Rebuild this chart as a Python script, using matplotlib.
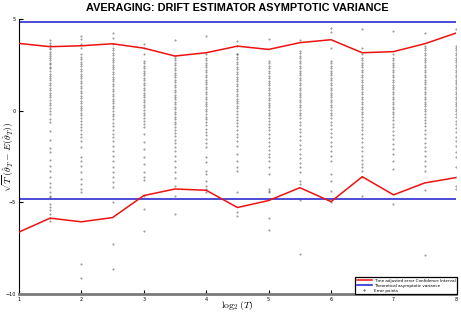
import matplotlib
matplotlib.use("Agg")
import matplotlib.pyplot as plt
from matplotlib.lines import Line2D

# ---------------- data ----------------
log2_T = [1.0, 1.5, 2.0, 2.5, 3.0, 3.5, 4.0, 4.5, 5.0, 5.5, 6.0, 6.5, 7.0, 7.5, 8.0]
ci_upper = [3.67, 3.49, 3.54, 3.65, 3.41, 2.98, 3.16, 3.52, 3.34, 3.71, 3.87, 3.16, 3.22, 3.65, 4.23]
ci_lower = [-6.62, -5.86, -6.06, -5.83, -4.63, -4.27, -4.34, -5.28, -4.90, -4.20, -4.96, -3.60, -4.59, -3.94, -3.65]
theoretical_level = 4.82

err_x = [1.5, 2.0, 2.5, 3.0, 3.5, 4.0, 4.5, 5.0, 5.5, 6.0, 6.5, 7.0, 7.5, 8.0]
err_15 = [3.83, 3.70, 3.58, 3.43, 3.34, 3.22, 3.11, 2.98, 2.89, 2.75, 2.62, 2.53, 2.38, 2.31, 2.17,
          2.02, 1.89, 1.77, 1.66, 1.53, 1.40, 1.26, 1.12, 0.99, 0.86, 0.72, 0.57, 0.44, 0.32, 0.17,
          -0.01, -0.19, -0.46, -0.64, -1.10, -1.60, -2.04, -2.27, -2.67, -3.00, -3.27, -3.63, -3.96,
          -4.18, -4.45, -4.63, -4.72, -5.08, -5.23, -5.44, -5.62, -5.84, -6.02]
err_20 = [4.07, 3.89, 3.61, 3.43, 3.11, 2.95, 2.82, 2.68, 2.55, 2.41, 2.30, 2.16, 2.02, 1.90, 1.77,
          1.62, 1.50, 1.36, 1.22, 1.10, 0.95, 0.82, 0.70, 0.55, 0.42, 0.28, 0.15, 0.02, -0.12, -0.25,
          -0.40, -0.55, -0.70, -0.88, -1.05, -1.25, -1.45, -1.64, -2.00, -2.51, -2.73, -3.00, -3.36,
          -3.72, -4.00, -4.27, -4.45, -8.38, -9.10]
err_25 = [4.25, 3.98, 3.65, 3.43, 3.30, 3.15, 3.02, 2.90, 2.78, 2.64, 2.50, 2.38, 2.25, 2.12, 2.00,
          1.86, 1.73, 1.60, 1.46, 1.32, 1.20, 1.06, 0.92, 0.80, 0.66, 0.52, 0.40, 0.25, 0.12, -0.02,
          -0.16, -0.30, -0.48, -0.65, -0.85, -1.05, -1.25, -1.46, -1.64, -1.91, -2.18, -2.45, -2.73,
          -3.09, -3.36, -3.63, -3.90, -4.18, -4.99, -7.26, -8.61]
err_30 = [3.65, 3.43, 3.11, 2.71, 2.58, 2.45, 2.32, 2.18, 2.05, 1.92, 1.78, 1.65, 1.52, 1.38, 1.25,
          1.12, 0.98, 0.85, 0.72, 0.58, 0.45, 0.32, 0.18, 0.05, -0.10, -0.25, -0.40, -0.58, -0.75,
          -0.91, -1.28, -1.73, -2.09, -2.54, -2.91, -3.36, -3.63, -3.78, -4.63, -5.35, -6.57]
err_35 = [3.83, 2.98, 2.89, 2.75, 2.62, 2.48, 2.35, 2.22, 2.08, 1.95, 1.82, 1.68, 1.55, 1.42, 1.28,
          1.15, 1.02, 0.88, 0.75, 0.62, 0.48, 0.35, 0.22, 0.08, -0.05, -0.18, -0.32, -0.45, -0.60,
          -0.75, -0.90, -1.05, -1.22, -1.40, -1.58, -1.78, -1.98, -2.18, -2.45, -2.73, -3.09, -3.36,
          -3.67, -4.08, -4.63, -5.62]
err_40 = [4.07, 3.11, 2.89, 2.76, 2.62, 2.50, 2.36, 2.22, 2.10, 1.96, 1.83, 1.70, 1.56, 1.43, 1.30,
          1.16, 1.03, 0.90, 0.76, 0.63, 0.50, 0.36, 0.23, 0.10, -0.04, -0.18, -0.32, -0.48, -0.63,
          -0.80, -0.98, -1.16, -1.35, -1.55, -1.76, -2.00, -2.54, -2.82, -3.27, -3.45, -3.81, -4.08,
          -4.27, -4.45]
err_45 = [3.80, 3.52, 3.11, 3.07, 2.93, 2.80, 2.66, 2.53, 2.40, 2.26, 2.13, 2.00, 1.86, 1.72, 1.60,
          1.46, 1.32, 1.20, 1.06, 0.92, 0.80, 0.66, 0.52, 0.40, 0.26, 0.12, -0.02, -0.18, -0.34,
          -0.50, -0.68, -0.86, -1.05, -1.25, -1.45, -1.64, -1.91, -2.36, -2.73, -3.09, -3.27, -4.43,
          -5.50, -5.75]
err_50 = [3.89, 2.71, 2.58, 2.44, 2.31, 2.18, 2.04, 1.91, 1.78, 1.64, 1.51, 1.38, 1.24, 1.11, 0.98,
          0.84, 0.71, 0.58, 0.44, 0.31, 0.18, 0.04, -0.10, -0.25, -0.40, -0.56, -0.72, -0.90, -1.08,
          -1.28, -1.48, -1.70, -1.92, -2.14, -2.36, -2.54, -2.73, -3.09, -3.45, -4.27, -4.36, -4.45,
          -5.84, -6.53]
err_55 = [3.83, 3.25, 3.12, 2.98, 2.85, 2.72, 2.58, 2.45, 2.32, 2.18, 2.05, 1.92, 1.78, 1.65, 1.52,
          1.38, 1.25, 1.12, 0.98, 0.85, 0.72, 0.58, 0.45, 0.32, 0.18, 0.05, -0.10, -0.26, -0.42,
          -0.60, -0.78, -0.98, -1.18, -1.40, -1.62, -1.86, -2.10, -2.35, -2.60, -2.85, -3.09, -3.36,
          -3.81, -4.00, -4.87, -7.80]
err_60 = [4.52, 4.30, 3.43, 2.71, 2.58, 2.45, 2.32, 2.18, 2.05, 1.92, 1.78, 1.65, 1.52, 1.38, 1.25,
          1.12, 0.98, 0.85, 0.72, 0.58, 0.45, 0.32, 0.18, 0.05, -0.10, -0.25, -0.42, -0.60, -0.80,
          -1.00, -1.22, -1.45, -1.70, -1.95, -2.20, -2.46, -2.73, -3.45, -3.81, -4.36, -5.00]
err_65 = [4.43, 3.43, 3.11, 2.89, 2.76, 2.62, 2.49, 2.36, 2.22, 2.09, 1.96, 1.82, 1.69, 1.56, 1.42,
          1.29, 1.16, 1.02, 0.89, 0.76, 0.62, 0.49, 0.36, 0.22, 0.09, -0.05, -0.20, -0.36, -0.52,
          -0.70, -0.88, -1.08, -1.28, -1.50, -1.72, -1.96, -2.20, -2.45, -2.70, -2.90, -3.09, -3.27,
          -3.63, -4.63]
err_70 = [4.34, 3.07, 2.89, 2.76, 2.62, 2.49, 2.36, 2.22, 2.09, 1.96, 1.82, 1.69, 1.56, 1.42, 1.29,
          1.16, 1.02, 0.89, 0.76, 0.62, 0.49, 0.36, 0.22, 0.09, -0.05, -0.20, -0.36, -0.52, -0.70,
          -0.90, -1.10, -1.32, -1.56, -1.82, -2.08, -2.36, -2.73, -3.18, -5.10]
err_75 = [4.25, 3.52, 3.43, 3.30, 3.16, 3.03, 2.90, 2.76, 2.63, 2.50, 2.36, 2.23, 2.10, 1.96, 1.83,
          1.70, 1.56, 1.43, 1.30, 1.16, 1.03, 0.90, 0.76, 0.63, 0.50, 0.36, 0.23, 0.10, -0.04, -0.18,
          -0.34, -0.50, -0.68, -0.86, -1.06, -1.28, -1.50, -1.74, -1.98, -2.22, -2.48, -2.74, -3.00,
          -3.27, -4.30, -7.85]
err_80 = [4.48, 3.52, 3.43, 3.30, 3.16, 3.03, 2.90, 2.76, 2.63, 2.50, 2.36, 2.23, 2.10, 1.96, 1.83,
          1.70, 1.56, 1.43, 1.30, 1.16, 1.03, 0.90, 0.76, 0.63, 0.50, 0.36, 0.23, 0.10, -0.04, -0.20,
          -0.36, -0.54, -0.74, -0.95, -1.18, -1.42, -1.68, -1.95, -2.24, -2.54, -3.09, -3.63, -4.08,
          -4.27]
err_cols = [err_15, err_20, err_25, err_30, err_35, err_40, err_45, err_50, err_55, err_60,
            err_65, err_70, err_75, err_80]

x_ticks = [1, 2, 3, 4, 5, 6, 7, 8]
y_ticks = [-10, -5, 0, 5]

title = "AVERAGING: DRIFT ESTIMATOR ASYMPTOTIC VARIANCE"
legend_labels = ["Time adjusted error Confidence Interval",
                 "Theoretical asymptotic variance",
                 "Error points"]

# ---------------- plot ----------------
plt.rcParams["mathtext.fontset"] = "cm"
fig = plt.figure(figsize=(4.61, 3.14), dpi=100)
ax = fig.add_axes([0.041, 0.0635, 0.948, 0.876])

dot_color = "#555555"
for xv, vals in zip(err_x, err_cols):
    ax.plot([xv] * len(vals), vals, linestyle="none", marker=".", ms=0.9,
            color=dot_color, alpha=0.7, zorder=1)

red = "#ee1111"
blue = "#1a1acc"
ax.plot(log2_T, ci_upper, color=red, lw=1.1, zorder=3)
ax.plot(log2_T, ci_lower, color=red, lw=1.1, zorder=3)
ax.axhline(theoretical_level, color=blue, lw=1.1, zorder=2)
ax.axhline(-theoretical_level, color=blue, lw=1.1, zorder=2)

ax.set_xlim(1, 8)
ax.set_ylim(-10, 5)
ax.set_xticks(x_ticks)
ax.set_yticks(y_ticks)
ax.tick_params(axis="both", direction="in", labelsize=3.5, length=3, width=0.8, pad=2)
ax.spines["top"].set_visible(False)
ax.spines["right"].set_visible(False)
ax.spines["left"].set_color("black")
ax.spines["left"].set_linewidth(0.8)
ax.spines["bottom"].set_color("#7a7a7a")
ax.spines["bottom"].set_linewidth(2.0)

ax.set_title(title, fontsize=7.8, fontweight="bold", family="Liberation Sans", pad=6)
xl = ax.set_xlabel(r"$\log_2(T)$", fontsize=7)
ax.xaxis.set_label_coords(0.5, -0.018)
xl.set_verticalalignment("top")
ax.set_ylabel(r"$\sqrt{T}\,(\hat{\theta}_T - E(\hat{\theta}_T))$", fontsize=7)
ax.yaxis.set_label_coords(-0.006, 0.5)

handles = [Line2D([], [], color=red, lw=1.1),
           Line2D([], [], color=blue, lw=1.1),
           Line2D([], [], linestyle="none", marker=".", ms=1.0, color=dot_color)]
leg = ax.legend(handles, legend_labels, loc="lower right", bbox_to_anchor=(1.003, 0.0),
                borderaxespad=0, fontsize=3.0, fancybox=False, framealpha=1,
                handlelength=3.5, handletextpad=0.6, borderpad=0.35, labelspacing=0.2)
leg.get_frame().set_edgecolor("black")
leg.get_frame().set_linewidth(0.9)

fig.savefig("out.png", dpi=100)
